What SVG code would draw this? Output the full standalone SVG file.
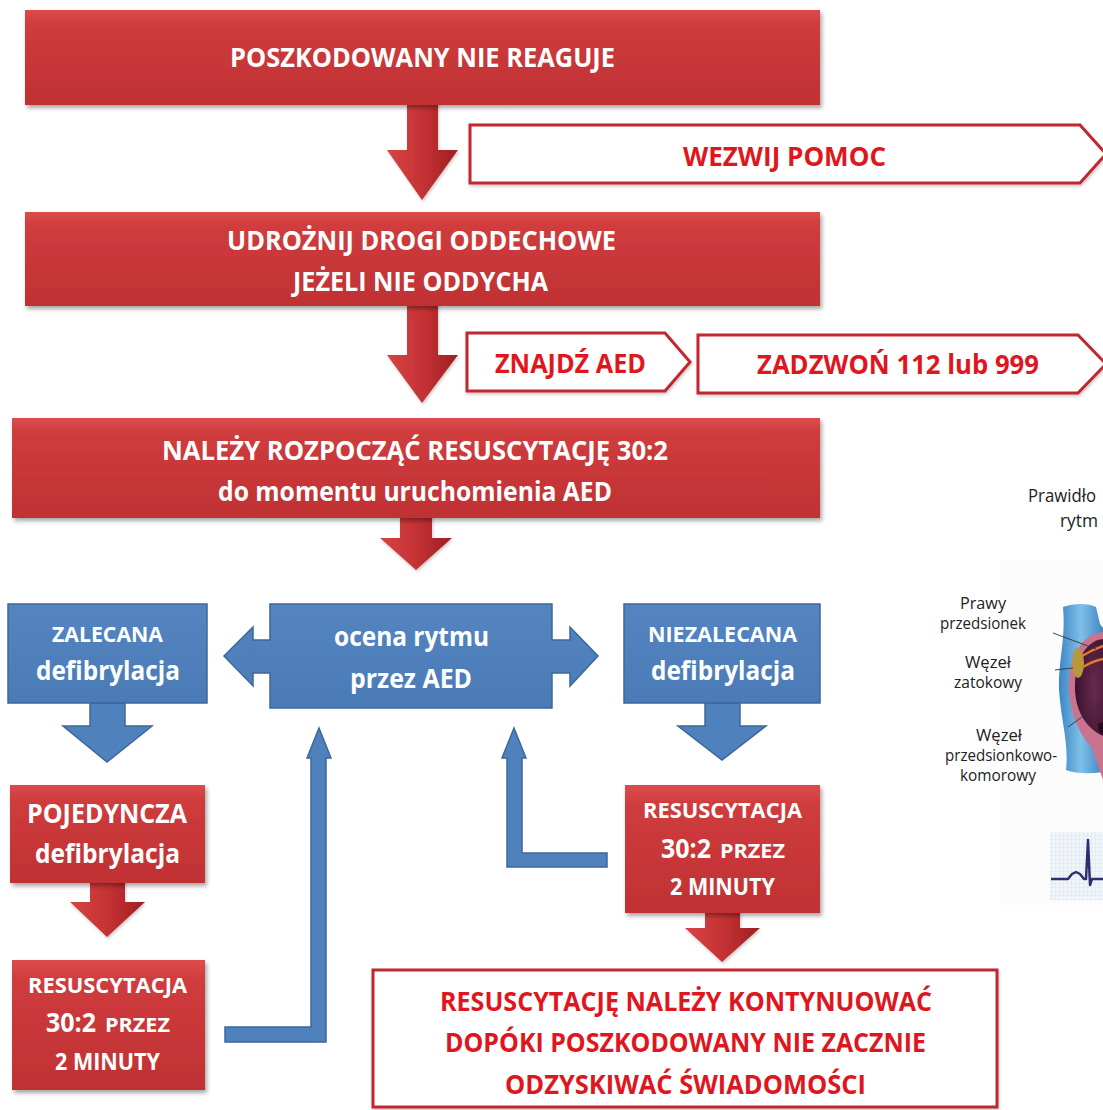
<svg xmlns="http://www.w3.org/2000/svg" width="1103" height="1110" viewBox="0 0 1103 1110">
  <defs>
    <linearGradient id="redFill" x1="0" y1="0" x2="0" y2="1">
      <stop offset="0" stop-color="#dd4b4b"/>
      <stop offset="0.15" stop-color="#cf3c3d"/>
      <stop offset="1" stop-color="#c03133"/>
    </linearGradient>
    <linearGradient id="redArrow" x1="0" y1="0" x2="1" y2="0">
      <stop offset="0" stop-color="#d64444"/>
      <stop offset="0.5" stop-color="#c53234"/>
      <stop offset="1" stop-color="#9e1f22"/>
    </linearGradient>
    <linearGradient id="blueFill" x1="0" y1="0" x2="0" y2="1">
      <stop offset="0" stop-color="#5485c0"/>
      <stop offset="1" stop-color="#4a7bb7"/>
    </linearGradient>
    <linearGradient id="vessel" x1="0" y1="0" x2="1" y2="0">
      <stop offset="0" stop-color="#3d86c6"/>
      <stop offset="0.5" stop-color="#7fc0e8"/>
      <stop offset="1" stop-color="#3f86c4"/>
    </linearGradient>
    <radialGradient id="chamber" cx="0.7" cy="0.5" r="0.7">
      <stop offset="0" stop-color="#6a2a4c"/>
      <stop offset="1" stop-color="#3a1230"/>
    </radialGradient>
    <pattern id="ecgGrid" width="4" height="4" patternUnits="userSpaceOnUse">
      <rect width="4" height="4" fill="#f1f5fa"/>
      <path d="M4 0V4M0 4H4" stroke="#cfdcea" stroke-width="0.6"/>
    </pattern>
    <filter id="shadow" x="-5%" y="-10%" width="110%" height="130%">
      <feDropShadow dx="2" dy="3" stdDeviation="2" flood-color="#000" flood-opacity="0.35"/>
    </filter>
    <filter id="soft" x="-5%" y="-10%" width="110%" height="130%">
      <feDropShadow dx="1" dy="2" stdDeviation="1.5" flood-color="#000" flood-opacity="0.2"/>
    </filter>
  </defs>
  <style>
    .red { fill: url(#redFill); filter: url(#shadow); }
    .blue { fill: url(#blueFill); stroke: #3c679c; stroke-width: 1.5; }
    .callout { fill: #ffffff; stroke: #c2272e; stroke-width: 3; filter: url(#soft); }
    .arrowRed { fill: url(#redArrow); filter: url(#soft); }
    .arrowBlue { fill: #4f81bd; stroke: #3c679c; stroke-width: 1.5; }
    text { font-family: "Open Sans", "Liberation Sans", sans-serif; font-weight: bold; text-anchor: middle; }
    .w { fill: #ffffff; }
    .r { fill: #e0161e; }
    .lbl { font-weight: normal; fill: #222222; font-size: 16px; }
  </style>

  <rect width="1103" height="1110" fill="#ffffff"/>

  <!-- connectors -->
  <g id="connectors">
    <polygon class="arrowRed" points="407,100 438,100 438,150 458,150 422,200 387,150 407,150"/>
    <polygon class="arrowRed" points="407,300 438,300 438,355 458,355 422,403 387,355 407,355"/>
    <polygon class="arrowRed" points="400,512 432,512 432,538 452,538 416,570 380,538 400,538"/>
    <polygon class="arrowRed" points="90,878 125,878 125,902 145,902 107,937 70,902 90,902"/>
    <polygon class="arrowRed" points="705,908 740,908 740,928 760,928 722,962 685,928 705,928"/>
    <polygon class="arrowBlue" points="90,703 125,703 125,726 152,726 107,762 63,726 90,726"/>
    <polygon class="arrowBlue" points="705,703 740,703 740,726 766,726 722,760 678,726 705,726"/>
    <!-- loop back from left CPR block -->
    <polygon class="arrowBlue" points="225,1027 311,1027 311,758 307,758 319,728 331,758 326,758 326,1042 225,1042"/>
    <!-- loop back from right CPR block -->
    <polygon class="arrowBlue" points="607,853 522,853 522,758 526,758 514,728 502,758 507,758 507,867 607,867"/>
  </g>

  <g id="node-nie-reaguje">
    <rect class="red" x="25" y="10" width="795" height="95"/>
    <text class="w" x="422.5" y="67" font-size="26" textLength="385" lengthAdjust="spacingAndGlyphs">POSZKODOWANY NIE REAGUJE</text>
  </g>

  <g id="node-wezwij">
    <polygon class="callout" points="470,125 1080,125 1106,154 1080,183 470,183"/>
    <text class="r" x="784.5" y="166" font-size="26" textLength="203" lengthAdjust="spacingAndGlyphs">WEZWIJ POMOC</text>
  </g>

  <g id="node-udroznij">
    <rect class="red" x="25" y="212" width="795" height="94"/>
    <text class="w" x="421.5" y="250" font-size="26" textLength="389" lengthAdjust="spacingAndGlyphs">UDROŻNIJ DROGI ODDECHOWE</text>
    <text class="w" x="420.5" y="291" font-size="26" textLength="255" lengthAdjust="spacingAndGlyphs">JEŻELI NIE ODDYCHA</text>
  </g>

  <g id="node-znajdz">
    <polygon class="callout" points="467,333 665,333 690,362 665,391 467,391"/>
    <text class="r" x="570.5" y="373" font-size="26" textLength="151" lengthAdjust="spacingAndGlyphs">ZNAJDŹ AED</text>
  </g>

  <g id="node-zadzwon">
    <polygon class="callout" points="698,335 1078,335 1106,364 1078,393 698,393"/>
    <text class="r" x="898" y="374" font-size="26" textLength="282" lengthAdjust="spacingAndGlyphs">ZADZWOŃ 112 lub 999</text>
  </g>

  <g id="node-rozpoczac">
    <rect class="red" x="12" y="418" width="808" height="100"/>
    <text class="w" x="415" y="460" font-size="27" textLength="506" lengthAdjust="spacingAndGlyphs">NALEŻY ROZPOCZĄĆ RESUSCYTACJĘ 30:2</text>
    <text class="w" x="415" y="501" font-size="26" textLength="394" lengthAdjust="spacingAndGlyphs">do momentu uruchomienia AED</text>
  </g>

  <g id="node-zalecana">
    <rect class="blue" x="8" y="604" width="199" height="99"/>
    <text class="w" x="107.5" y="642" font-size="21" textLength="111" lengthAdjust="spacingAndGlyphs">ZALECANA</text>
    <text class="w" x="108" y="680" font-size="27" textLength="144" lengthAdjust="spacingAndGlyphs">defibrylacja</text>
  </g>

  <g id="node-ocena">
    <polygon class="blue" points="270,604 552,604 552,640 570,640 570,627 598,656 570,686 570,673 552,673 552,708 270,708 270,673 253,673 253,686 224,656 253,627 253,640 270,640"/>
    <text class="w" x="411.5" y="646" font-size="26" textLength="155" lengthAdjust="spacingAndGlyphs">ocena rytmu</text>
    <text class="w" x="411" y="688" font-size="26" textLength="122" lengthAdjust="spacingAndGlyphs">przez AED</text>
  </g>

  <g id="node-niezalecana">
    <rect class="blue" x="624" y="604" width="196" height="99"/>
    <text class="w" x="722.5" y="642" font-size="21" textLength="149" lengthAdjust="spacingAndGlyphs">NIEZALECANA</text>
    <text class="w" x="723" y="680" font-size="27" textLength="144" lengthAdjust="spacingAndGlyphs">defibrylacja</text>
  </g>

  <g id="node-pojedyncza">
    <rect class="red" x="10" y="785" width="195" height="98"/>
    <text class="w" x="107" y="823" font-size="26" textLength="160" lengthAdjust="spacingAndGlyphs">POJEDYNCZA</text>
    <text class="w" x="107.5" y="863" font-size="27" textLength="145" lengthAdjust="spacingAndGlyphs">defibrylacja</text>
  </g>

  <g id="node-resuscytacja-lewa">
    <rect class="red" x="12" y="960" width="193" height="130"/>
    <text class="w" x="107.5" y="993" font-size="22" textLength="159" lengthAdjust="spacingAndGlyphs">RESUSCYTACJA</text>
    <text class="w" x="71" y="1032" font-size="27" textLength="50" lengthAdjust="spacingAndGlyphs">30:2</text>
    <text class="w" x="137.5" y="1032" font-size="19" textLength="65" lengthAdjust="spacingAndGlyphs">PRZEZ</text>
    <text class="w" x="107.5" y="1070" font-size="23" textLength="105" lengthAdjust="spacingAndGlyphs">2 MINUTY</text>
  </g>

  <g id="node-resuscytacja-prawa">
    <rect class="red" x="625" y="785" width="195" height="128"/>
    <text class="w" x="722.5" y="818" font-size="22" textLength="159" lengthAdjust="spacingAndGlyphs">RESUSCYTACJA</text>
    <text class="w" x="686" y="858" font-size="27" textLength="50" lengthAdjust="spacingAndGlyphs">30:2</text>
    <text class="w" x="752.5" y="858" font-size="19" textLength="65" lengthAdjust="spacingAndGlyphs">PRZEZ</text>
    <text class="w" x="722.5" y="895" font-size="23" textLength="105" lengthAdjust="spacingAndGlyphs">2 MINUTY</text>
  </g>

  <g id="node-kontynuowac">
    <rect class="callout" x="373" y="970" width="624" height="137"/>
    <text class="r" x="686" y="1011" font-size="26" textLength="492" lengthAdjust="spacingAndGlyphs">RESUSCYTACJĘ NALEŻY KONTYNUOWAĆ</text>
    <text class="r" x="685.5" y="1052" font-size="26" textLength="481" lengthAdjust="spacingAndGlyphs">DOPÓKI POSZKODOWANY NIE ZACZNIE</text>
    <text class="r" x="685.5" y="1094" font-size="26" textLength="361" lengthAdjust="spacingAndGlyphs">ODZYSKIWAĆ ŚWIADOMOŚCI</text>
  </g>

  <!-- heart conduction illustration at the right edge -->
  <g id="heart-panel">
    <rect x="1000" y="560" width="103" height="345" fill="#fcfcfc"/>
    <text x="1028" y="502" font-size="18" textLength="68" lengthAdjust="spacingAndGlyphs" style="font-weight:normal;text-anchor:start" fill="#222">Prawidło</text>
    <text x="1060" y="527" font-size="18" textLength="38" lengthAdjust="spacingAndGlyphs" style="font-weight:normal;text-anchor:start" fill="#222">rytm</text>

    <text class="lbl" x="983" y="609" textLength="46" lengthAdjust="spacingAndGlyphs">Prawy</text>
    <text class="lbl" x="983" y="629" textLength="86" lengthAdjust="spacingAndGlyphs">przedsionek</text>
    <text class="lbl" x="988" y="668" textLength="46" lengthAdjust="spacingAndGlyphs">Węzeł</text>
    <text class="lbl" x="988" y="688" textLength="68" lengthAdjust="spacingAndGlyphs">zatokowy</text>
    <text class="lbl" x="999" y="741" textLength="46" lengthAdjust="spacingAndGlyphs">Węzeł</text>
    <text class="lbl" x="1001" y="761" textLength="112" lengthAdjust="spacingAndGlyphs">przedsionkowo-</text>
    <text class="lbl" x="998" y="781" textLength="76" lengthAdjust="spacingAndGlyphs">komorowy</text>

    <path d="M1063,607 C1074,603 1088,603 1096,607 L1100,624 L1103,628 L1103,772 C1090,774 1076,774 1066,770 C1069,745 1061,720 1059,690 C1058,660 1066,640 1063,607 Z" fill="url(#vessel)"/>
    <path d="M1103,632 C1080,634 1068,660 1069,690 C1070,715 1080,735 1092,748 L1103,780 Z" fill="#c9738f"/>
    <path d="M1103,639 C1085,641 1074,662 1075,690 C1076,712 1086,728 1103,736 Z" fill="url(#chamber)"/>
    <ellipse cx="1078" cy="663" rx="6" ry="15" fill="#b9973c"/>
    <path d="M1082,656 Q1092,650 1103,646 M1083,667 Q1093,661 1103,659" stroke="#e3782f" stroke-width="2.5" fill="none"/>
    <path d="M1098,724 L1103,722 L1103,734 L1099,732 Z" fill="#2a0a1e"/>
    <path d="M1053,633 L1096,649 M1055,670 L1073,668 M1068,727 L1103,702" stroke="#333" stroke-width="0.9" fill="none"/>

    <rect x="1050" y="832" width="53" height="68" fill="url(#ecgGrid)"/>
    <polyline points="1051,879 1068,879 1072,874 1076,872 1080,874 1084,879 1086,879 1088,840 1090,885 1092,879 1103,879" fill="none" stroke="#2b2f6d" stroke-width="2.5" stroke-linejoin="round"/>
  </g>
</svg>
